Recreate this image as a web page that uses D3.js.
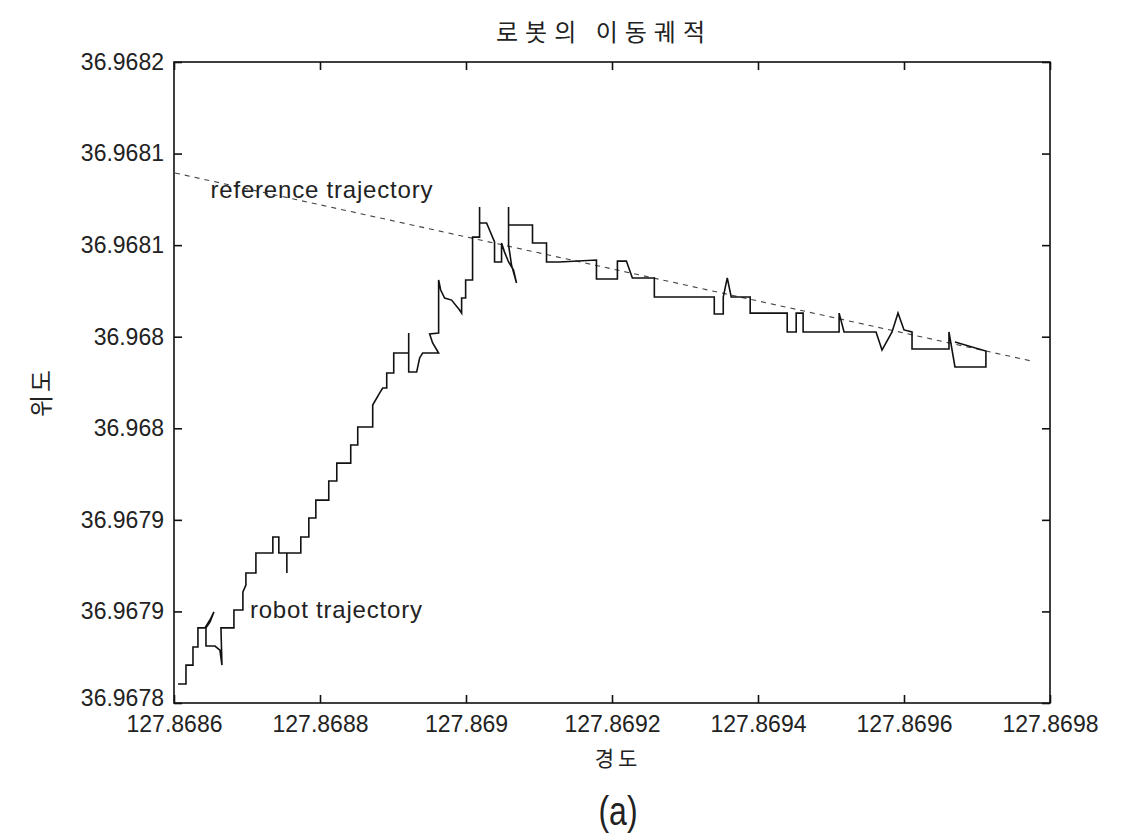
<!DOCTYPE html>
<html><head><meta charset="utf-8">
<script src="https://cdn.jsdelivr.net/npm/d3@7"></script>
<style>
html,body{margin:0;padding:0;background:#fff;}
svg text{font-family:"Liberation Sans",Arial,sans-serif;fill:#222;}
</style></head>
<body><svg id="c" width="1122" height="836"></svg>
<script>
const chartTitle = "로봇의 이동궤적";
const xLabel = "경도";
const yLabel = "위도";
const caption = "(a)";
const xTicks = [127.8686, 127.8688, 127.869, 127.8692, 127.8694, 127.8696, 127.8698];
const xTickLabels = ["127.8686","127.8688","127.869","127.8692","127.8694","127.8696","127.8698"];
const yTicks = [36.9678, 36.96785, 36.9679, 36.96795, 36.968, 36.96805, 36.9681, 36.96815];
const yTickLabels = ["36.9678","36.9679","36.9679","36.968","36.968","36.9681","36.9681","36.9682"];
const xDomain = [127.8686, 127.8698];
const yDomain = [36.9678, 36.96815];

const refLon = [127.8686014, 127.8697751];
const refLat = [36.9680894, 36.9679867];

const robotLon = [
127.8686055,127.8686164,127.8686164,127.8686260,127.8686260,127.8686328,127.8686328,127.8686424,127.8686492,127.8686547,
127.8686492,127.8686438,127.8686438,127.8686561,127.8686629,127.8686657,127.8686643,127.8686821,127.8686821,127.8686944,
127.8686944,127.8686985,127.8686985,127.8687122,127.8687122,127.8687354,127.8687354,127.8687436,127.8687436,127.8687546,
127.8687546,127.8687546,127.8687737,127.8687737,127.8687847,127.8687847,127.8687943,127.8687943,127.8688120,127.8688120,
127.8688230,127.8688230,127.8688421,127.8688421,127.8688517,127.8688517,127.8688722,127.8688722,127.8688818,127.8688859,
127.8688914,127.8688914,127.8689010,127.8689010,127.8689215,127.8689215,127.8689215,127.8689324,127.8689365,127.8689406,
127.8689625,127.8689543,127.8689502,127.8689625,127.8689625,127.8689653,127.8689707,127.8689803,127.8689912,127.8689940,
127.8689940,127.8689995,127.8689995,127.8690090,127.8690090,127.8690186,127.8690186,127.8690186,127.8690282,127.8690391,
127.8690391,127.8690487,127.8690487,127.8690528,127.8690583,127.8690651,127.8690692,127.8690624,127.8690583,127.8690583,
127.8690583,127.8690911,127.8690911,127.8691103,127.8691103,127.8691280,127.8691787,127.8691787,127.8692074,127.8692074,
127.8692197,127.8692279,127.8692580,127.8692580,127.8693401,127.8693401,127.8693524,127.8693524,127.8693579,127.8693633,
127.8693893,127.8693893,127.8694400,127.8694400,127.8694523,127.8694523,127.8694618,127.8694618,127.8695111,127.8695111,
127.8695179,127.8695617,127.8695699,127.8695836,127.8695918,127.8696000,127.8696110,127.8696110,127.8696616,127.8696616,
127.8696698,127.8697122,127.8697122,127.8696698
];
const robotLat = [
36.9678104,36.9678104,36.9678207,36.9678207,36.9678306,36.9678306,36.9678410,36.9678410,36.9678453,36.9678497,
36.9678442,36.9678410,36.9678311,36.9678311,36.9678289,36.9678207,36.9678410,36.9678410,36.9678508,36.9678508,
36.9678606,36.9678644,36.9678710,36.9678710,36.9678819,36.9678819,36.9678906,36.9678906,36.9678819,36.9678819,
36.9678710,36.9678819,36.9678819,36.9678906,36.9678906,36.9679010,36.9679010,36.9679108,36.9679108,36.9679212,
36.9679212,36.9679310,36.9679310,36.9679409,36.9679409,36.9679507,36.9679507,36.9679627,36.9679693,36.9679720,
36.9679720,36.9679802,36.9679802,36.9679911,36.9679911,36.9680020,36.9679807,36.9679807,36.9679884,36.9679911,
36.9679911,36.9679966,36.9680015,36.9680020,36.9680310,36.9680255,36.9680211,36.9680200,36.9680146,36.9680129,
36.9680211,36.9680211,36.9680310,36.9680310,36.9680544,36.9680544,36.9680708,36.9680621,36.9680621,36.9680517,
36.9680408,36.9680408,36.9680512,36.9680462,36.9680408,36.9680364,36.9680293,36.9680391,36.9680501,36.9680708,
36.9680610,36.9680610,36.9680512,36.9680512,36.9680408,36.9680408,36.9680419,36.9680315,36.9680315,36.9680413,
36.9680413,36.9680321,36.9680321,36.9680217,36.9680217,36.9680124,36.9680124,36.9680217,36.9680321,36.9680217,
36.9680217,36.9680129,36.9680129,36.9680026,36.9680026,36.9680129,36.9680129,36.9680026,36.9680026,36.9680129,
36.9680026,36.9680026,36.9679927,36.9680026,36.9680129,36.9680037,36.9680026,36.9679933,36.9679933,36.9680026,
36.9679835,36.9679835,36.9679922,36.9679971
];

const annotations = [
  {text: "reference trajectory", lon: 127.86865, lat: 36.9680757},
  {text: "robot trajectory", lon: 127.868704, lat: 36.9678464}
];

const L = 174, R = 1050, T = 62, B = 703;
const svg = d3.select("#c");
const x = d3.scaleLinear().domain(xDomain).range([L, R]);
const y = d3.scaleLinear().domain(yDomain).range([B, T]);

// frame
svg.append("rect").attr("x", L).attr("y", T).attr("width", R - L).attr("height", B - T)
  .attr("fill", "none").attr("stroke", "#111").attr("stroke-width", 1.6);

const tickLen = 8;
function styleAxis(g, labels) {
  g.select(".domain").remove();
  g.selectAll(".tick line").attr("stroke", "#111").attr("stroke-width", 1.6);
  g.selectAll("text").style("font-size", "23px").attr("fill", "#222");
  if (!labels) g.selectAll("text").remove();
}
const xb = svg.append("g").attr("transform", `translate(0,${B})`)
  .call(d3.axisBottom(x).tickValues(xTicks).tickSize(-tickLen).tickPadding(13)
    .tickFormat((d, i) => xTickLabels[i]));
styleAxis(xb, true);
const xt = svg.append("g").attr("transform", `translate(0,${T})`)
  .call(d3.axisTop(x).tickValues(xTicks).tickSize(-tickLen));
styleAxis(xt, false);
const yl = svg.append("g").attr("transform", `translate(${L},0)`)
  .call(d3.axisLeft(y).tickValues(yTicks).tickSize(-tickLen).tickPadding(10)
    .tickFormat((d, i) => yTickLabels[i]));
styleAxis(yl, true);
// lift the lowest y label slightly so it clears the first x label
yl.selectAll(".tick text").filter((d, i) => i === 0).attr("dy", "0.1em");
const yr = svg.append("g").attr("transform", `translate(${R},0)`)
  .call(d3.axisRight(y).tickValues(yTicks).tickSize(-tickLen));
styleAxis(yr, false);

// reference line
const refData = refLon.map((d, i) => [d, refLat[i]]);
svg.append("path").datum(refData)
  .attr("d", d3.line().x(d => x(d[0])).y(d => y(d[1])))
  .attr("fill", "none").attr("stroke", "#444").attr("stroke-width", 1.1)
  .attr("stroke-dasharray", "5,5");

// robot trajectory
const robData = robotLon.map((d, i) => [d, robotLat[i]]);
svg.append("path").datum(robData)
  .attr("d", d3.line().x(d => x(d[0])).y(d => y(d[1])))
  .attr("fill", "none").attr("stroke", "#111").attr("stroke-width", 1.6)
  .attr("stroke-linejoin", "miter");

// annotations
svg.selectAll("text.ann").data(annotations).enter().append("text")
  .attr("class", "ann")
  .attr("x", d => x(d.lon)).attr("y", d => y(d.lat))
  .style("font-size", "24px").style("letter-spacing", "0.8px").text(d => d.text);

// title and labels
svg.append("text").attr("x", 604).attr("y", 41).attr("text-anchor", "middle")
  .style("font-family", "'Noto Sans CJK KR',sans-serif").style("font-size", "24px")
  .style("letter-spacing", "7px").text(chartTitle);
svg.append("text").attr("x", 618).attr("y", 766).attr("text-anchor", "middle")
  .style("font-family", "'Noto Sans CJK KR',sans-serif").style("font-size", "21px")
  .style("letter-spacing", "4px").text(xLabel);
svg.append("text").attr("transform", "translate(50,392) rotate(-90)").attr("text-anchor", "middle")
  .style("font-family", "'Noto Sans CJK KR',sans-serif").style("font-size", "24px")
  .style("letter-spacing", "3px").text(yLabel);
svg.append("text").attr("x", 618).attr("y", 825).attr("text-anchor", "middle")
  .attr("transform", "translate(618,0) scale(0.8,1) translate(-618,0)")
  .style("font-size", "40px").text(caption);
</script></body></html>
